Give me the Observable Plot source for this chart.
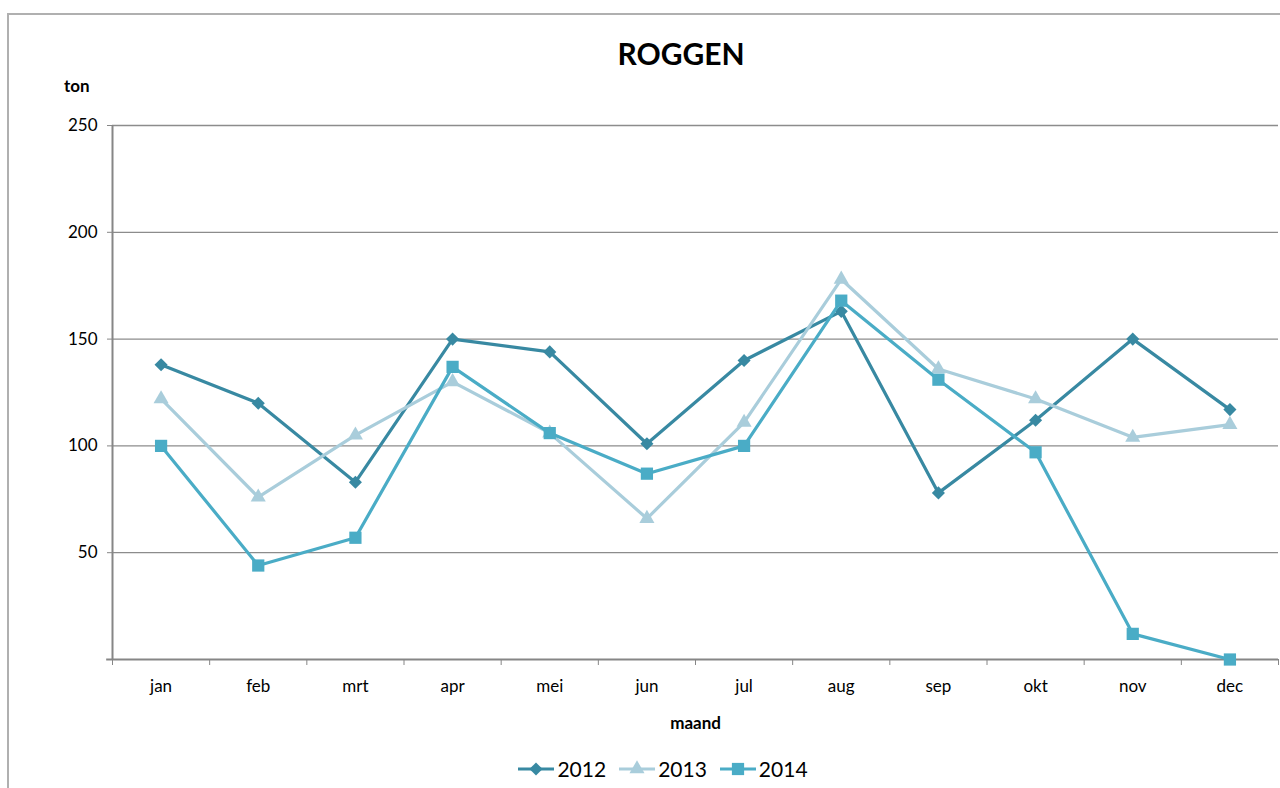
<!DOCTYPE html>
<html>
<head>
<meta charset="utf-8">
<script src="https://cdn.jsdelivr.net/npm/d3@7"></script>
<script src="https://cdn.jsdelivr.net/npm/@observablehq/plot@0.6"></script>
<style>
  html, body { margin: 0; padding: 0; background: #fff; }
  #wrap { position: relative; width: 1280px; height: 788px; overflow: hidden; font-family: Lato, "Open Sans", sans-serif; color: #000; }
  #frame { position: absolute; left: 7px; top: 13px; width: 1300px; height: 800px; border-left: 2px solid #b0b0b0; border-top: 2px solid #b0b0b0; box-sizing: border-box; }
  #title { position: absolute; left: 0; width: 1362px; top: 35px; text-align: center; font-weight: bold; font-size: 30px; }
  #ylab { position: absolute; left: 64px; top: 75px; font-weight: bold; font-size: 17px; }
  #chart { position: absolute; left: 0; top: 0; }
  #legend { position: absolute; left: 0; width: 1280px; top: 756px; display: flex; justify-content: center; gap: 12px; font-size: 21px; padding-left: 45px; box-sizing: border-box; }
  .item { display: flex; align-items: center; gap: 2px; }
</style>
</head>
<body>
<div id="wrap">
  <div id="frame"></div>
  <div id="chart"></div>
  <div id="title">ROGGEN</div>
  <div id="ylab">ton</div>
  <div id="legend"></div>
</div>
<script>
const months = ["jan", "feb", "mrt", "apr", "mei", "jun", "jul", "aug", "sep", "okt", "nov", "dec"];
const years = ["2012", "2013", "2014"];
const values2012 = [138, 120, 83, 150, 144, 101, 140, 163, 78, 112, 150, 117];
const values2013 = [122, 76, 105, 130, 106, 66, 111, 178, 136, 122, 104, 110];
const values2014 = [100, 44, 57, 137, 106, 87, 100, 168, 131, 97, 12, 0];
const yTicks = [0, 50, 100, 150, 200, 250];

const colors = {"2012": "#3889a2", "2013": "#a9cddb", "2014": "#4aacc6"};
const symbols = {"2012": "diamond2", "2013": "triangle", "2014": "square"};
const radii = {"2012": 5.9, "2013": 5.6, "2014": 6.9};

const seriesValues = [values2012, values2013, values2014];
const rows = years.flatMap((yr, k) => months.map((m, i) => ({year: yr, i, month: m, value: seriesValues[k][i]})));

const boundaries = d3.range(-0.5, 12, 1);
const marks = [
  Plot.gridY(yTicks.filter(t => t > 0), {stroke: "#8c8c8c", strokeOpacity: 1, strokeWidth: 1.3}),
  Plot.axisY(yTicks, {tickSize: 5, stroke: "#868686", tickFormat: d => d === 0 ? "" : d, fontSize: 17, tickPadding: 10, label: null}),
  Plot.ruleX([-0.5], {stroke: "#868686", strokeWidth: 2}),
  Plot.axisX(boundaries, {tickSize: 6, stroke: "#868686", tickFormat: () => "", label: null}),
  Plot.axisX(d3.range(12), {tickSize: 0, tickFormat: i => months[i], fontSize: 17, tickPadding: 20, label: null}),
  Plot.ruleY([0], {stroke: "#868686", strokeWidth: 2.2, x1: -0.56, x2: 11.5}),
  Plot.text(["maand"], {frameAnchor: "bottom", dy: 69, text: d => d, fontWeight: "bold", fontSize: 17})
];
for (const yr of years) {
  const data = rows.filter(r => r.year === yr);
  marks.push(Plot.line(data, {x: "i", y: "value", stroke: colors[yr], strokeWidth: 3.2}));
  marks.push(Plot.dot(data, {x: "i", y: "value", fill: colors[yr], stroke: "none", symbol: () => symbols[yr], r: radii[yr]}));
}

const chart = Plot.plot({
  width: 1280,
  height: 700,
  marginLeft: 112,
  marginRight: 2,
  marginTop: 125,
  marginBottom: 41,
  style: {fontFamily: "Lato, 'Open Sans', sans-serif", fontSize: "17px", color: "#000", background: "transparent", overflow: "visible"},
  x: {domain: [-0.5, 11.5], axis: null},
  y: {domain: [0, 250], axis: null},
  symbol: {type: "identity"},
  marks
});
document.getElementById("chart").appendChild(chart);

// legend
const legend = document.getElementById("legend");
for (const yr of years) {
  const item = document.createElement("div");
  item.className = "item";
  const sw = d3.create("svg").attr("width", 38).attr("height", 20);
  sw.append("line").attr("x1", 1).attr("x2", 37).attr("y1", 10).attr("y2", 10).attr("stroke", colors[yr]).attr("stroke-width", 3.2);
  const symType = yr === "2012" ? d3.symbolDiamond2 : yr === "2013" ? d3.symbolTriangle : d3.symbolSquare;
  sw.append("path").attr("transform", "translate(19,10)").attr("d", d3.symbol(symType, Math.PI * radii[yr] * radii[yr])()).attr("fill", colors[yr]);
  item.appendChild(sw.node());
  const t = document.createElement("span");
  t.textContent = yr;
  item.appendChild(t);
  legend.appendChild(item);
}
</script>
</body>
</html>
